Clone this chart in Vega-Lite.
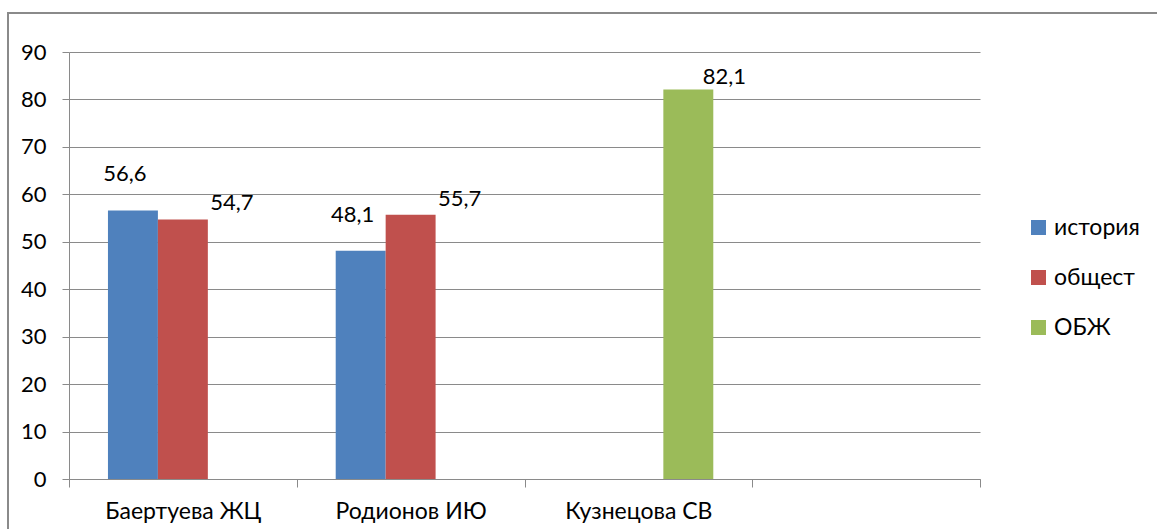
{
  "$schema": "https://vega.github.io/schema/vega-lite/v6.json",
  "width": 1160,
  "height": 530,
  "autosize": "none",
  "padding": {"left": 8, "top": 13, "right": 0, "bottom": 0},
  "background": "white",
  "config": {
    "view": {"stroke": "#8a8a8a", "strokeWidth": 2},
    "font": "Lato",
    "locale": {"number": {"decimal": ",", "thousands": " ", "grouping": [3], "currency": ["", " ₽"]}},
    "axis": {
      "labelFont": "Lato",
      "labelFontSize": 22,
      "labelColor": "#000000",
      "domainColor": "#8a8a8a",
      "tickColor": "#8a8a8a",
      "gridColor": "#8a8a8a",
      "domainWidth": 1,
      "tickWidth": 1,
      "gridWidth": 1,
      "title": null
    },
    "legend": {"labelFont": "Lato", "labelFontSize": 23, "labelColor": "#000000"}
  },
  "data": {
    "values": [
      {"name": "Баертуева ЖЦ", "subject": "история", "value": 56.6},
      {"name": "Баертуева ЖЦ", "subject": "общест", "value": 54.7},
      {"name": "Родионов ИЮ", "subject": "история", "value": 48.1},
      {"name": "Родионов ИЮ", "subject": "общест", "value": 55.7},
      {"name": "Кузнецова СВ", "subject": "ОБЖ", "value": 82.1}
    ]
  },
  "encoding": {
    "x": {
      "field": "name",
      "type": "nominal",
      "sort": null,
      "scale": {
        "domain": ["Баертуева ЖЦ", "Родионов ИЮ", "Кузнецова СВ", " "],
        "range": [61, 972],
        "paddingInner": 0,
        "paddingOuter": 0
      },
      "axis": {
        "orient": "bottom",
        "offset": -64,
        "tickBand": "extent",
        "tickSize": 8,
        "labelPadding": 13,
        "labelFontSize": 23,
        "labelAngle": 0,
        "grid": false
      }
    },
    "xOffset": {
      "field": "subject",
      "type": "nominal",
      "scale": {"domain": ["история", "общест", "ОБЖ"], "paddingInner": 0, "paddingOuter": 0.78}
    },
    "y": {
      "field": "value",
      "type": "quantitative",
      "scale": {"domain": [0, 90], "range": [466, 39], "nice": false},
      "axis": {
        "orient": "left",
        "offset": -61,
        "values": [0, 10, 20, 30, 40, 50, 60, 70, 80, 90],
        "tickSize": 7,
        "labelPadding": 16,
        "grid": true
      }
    }
  },
  "layer": [
    {
      "mark": {"type": "bar"},
      "encoding": {
        "color": {
          "field": "subject",
          "type": "nominal",
          "scale": {"domain": ["история", "общест", "ОБЖ"], "range": ["#4F81BD", "#C0504D", "#9BBB59"]},
          "legend": {
            "orient": "none",
            "legendX": 1019,
            "legendY": 203,
            "title": null,
            "symbolType": "square",
            "symbolSize": 225,
            "symbolStrokeWidth": 0,
            "symbolOpacity": 1,
            "rowPadding": 26,
            "labelOffset": 4,
            "padding": 0
          }
        }
      }
    },
    {
      "transform": [{"filter": "datum.subject === 'история'"}],
      "mark": {"type": "text", "fontSize": 22, "font": "Lato", "color": "#000000", "baseline": "middle", "align": "center", "dx": -8, "dy": -36},
      "encoding": {"text": {"field": "value", "type": "quantitative", "format": ".1f"}}
    },
    {
      "transform": [{"filter": "datum.subject === 'общест'"}],
      "mark": {"type": "text", "fontSize": 22, "font": "Lato", "color": "#000000", "baseline": "middle", "align": "center", "dx": 49, "dy": -16},
      "encoding": {"text": {"field": "value", "type": "quantitative", "format": ".1f"}}
    },
    {
      "transform": [{"filter": "datum.subject === 'ОБЖ'"}],
      "mark": {"type": "text", "fontSize": 22, "font": "Lato", "color": "#000000", "baseline": "middle", "align": "center", "dx": 36, "dy": -12},
      "encoding": {"text": {"field": "value", "type": "quantitative", "format": ".1f"}}
    }
  ]
}
